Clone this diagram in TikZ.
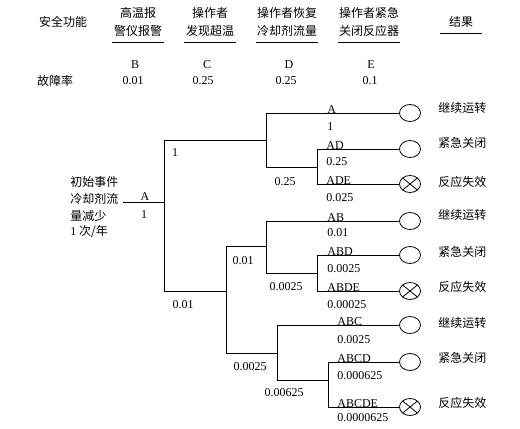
\documentclass[tikz,border=0pt]{standalone}
\usepackage{fontspec}
\setmainfont{Liberation Serif}
\newfontfamily\cjk{Noto Sans CJK SC}
\usetikzlibrary{shapes.geometric}
\begin{document}
\begin{tikzpicture}[x=0.75pt,y=-0.75pt,line width=0.6pt,
  lab/.style={font=\fontsize{9}{10}\selectfont, inner sep=0pt},
  zh/.style={font=\cjk\fontsize{9}{10}\selectfont, inner sep=0pt, align=center},
  seq/.style={lab, anchor=base west},
  prob/.style={lab, anchor=west},
  res/.style={ellipse, draw, minimum width=15.75pt, minimum height=12.75pt, inner sep=0pt},
  fail/.style={res, path picture={
     \draw (path picture bounding box.north west) -- (path picture bounding box.south east);
     \draw (path picture bounding box.north east) -- (path picture bounding box.south west);}}]
\useasboundingbox (0,0) rectangle (520,428);
% header
\node[zh] (hsf) at (63,22) {安全功能};
\node[zh] (hb1) at (138,13) {高温报};
\node[zh] (hb2) at (138,31) {警仪报警};
\node[zh] (hc1) at (210,13) {操作者};
\node[zh] (hc2) at (210,31) {发现超温};
\node[zh] (hd1) at (287,13) {操作者恢复};
\node[zh] (hd2) at (287,31) {冷却剂流量};
\node[zh] (he1) at (369,13) {操作者紧急};
\node[zh] (he2) at (369,31) {关闭反应器};
\node[zh] (hr) at (461,22) {结果};
\draw (112,42) -- (164,42);
\draw (184,42) -- (236,42);
\draw (256,42) -- (318,42);
\draw (338,42) -- (400,42);
\draw (440,33) -- (482,33);
\node[lab] (lB) at (135,65) {B};
\node[lab] (lC) at (207,65) {C};
\node[lab] (lD) at (289,65) {D};
\node[lab] (lE) at (371,65) {E};
\node[zh] (hfr) at (55,81) {故障率};
\node[lab] (fB) at (133,81) {0.01};
\node[lab] (fC) at (203,81) {0.25};
\node[lab] (fD) at (286,81) {0.25};
\node[lab] (fE) at (370,81) {0.1};
% initial event
\node[zh, anchor=west] (ie1) at (70,182) {初始事件};
\node[zh, anchor=west] (ie2) at (70,199) {冷却剂流};
\node[zh, anchor=west] (ie3) at (70,216) {量减少};
\node[zh, anchor=west] (ie4) at (70,232) {{\fontspec{Liberation Serif}1} 次/年};
% outcome circles
\node[res]  (o1) at (410,113) {};
\node[res]  (o2) at (410,149) {};
\node[fail] (o3) at (410,184) {};
\node[res]  (o4) at (410,221) {};
\node[res]  (o5) at (410,255) {};
\node[fail] (o6) at (410,291) {};
\node[res]  (o7) at (410,325) {};
\node[res]  (o8) at (410,362) {};
\node[fail] (o9) at (410,407) {};
% outcome texts
\node[zh, anchor=west] (t1) at (438,108) {继续运转};
\node[zh, anchor=west] (t2) at (438,143) {紧急关闭};
\node[zh, anchor=west] (t3) at (438,182) {反应失效};
\node[zh, anchor=west] (t4) at (438,215) {继续运转};
\node[zh, anchor=west] (t5) at (438,252) {紧急关闭};
\node[zh, anchor=west] (t6) at (438,287) {反应失效};
\node[zh, anchor=west] (t7) at (438,323) {继续运转};
\node[zh, anchor=west] (t8) at (438,358) {紧急关闭};
\node[zh, anchor=west] (t9) at (438,403) {反应失效};
% tree coordinates
\coordinate (i0) at (123,202);
\coordinate (j0) at (164,202);
\coordinate (j0u) at (164,140);
\coordinate (j0d) at (164,291);
\coordinate (c1) at (266,140);
\coordinate (c1u) at (266,113);
\coordinate (c1d) at (266,167);
\coordinate (d1) at (317,167);
\coordinate (d1u) at (317,149);
\coordinate (d1d) at (317,184);
\coordinate (b2) at (226,291);
\coordinate (b2u) at (226,246);
\coordinate (b2d) at (226,353);
\coordinate (c2) at (266,246);
\coordinate (c2u) at (266,221);
\coordinate (c2d) at (266,273);
\coordinate (d2) at (317,273);
\coordinate (d2u) at (317,255);
\coordinate (d2d) at (317,291);
\coordinate (c3) at (277,353);
\coordinate (c3u) at (277,325);
\coordinate (c3d) at (277,380);
\coordinate (d3) at (328,380);
\coordinate (d3u) at (328,362);
\coordinate (d3d) at (328,407);
% tree lines
\draw (i0) -- (j0);
\draw (j0u) -- (j0d);
\draw (j0u) -- (c1);
\draw (c1u) -- (c1d);
\draw (c1u) -- (o1.west);
\draw (c1d) -- (d1);
\draw (d1u) -- (d1d);
\draw (d1u) -- (o2.west);
\draw (d1d) -- (o3.west);
\draw (j0d) -- (b2);
\draw (b2u) -- (b2d);
\draw (b2u) -- (c2);
\draw (c2u) -- (c2d);
\draw (c2u) -- (o4.west);
\draw (c2d) -- (d2);
\draw (d2u) -- (d2d);
\draw (d2u) -- (o5.west);
\draw (d2d) -- (o6.west);
\draw (b2d) -- (c3);
\draw (c3u) -- (c3d);
\draw (c3u) -- (o7.west);
\draw (c3d) -- (d3);
\draw (d3u) -- (d3d);
\draw (d3u) -- (o8.west);
\draw (d3d) -- (o9.west);
% branch labels
\node[lab] (pA) at (145,197) {A};
\node[lab] (pA1) at (144,215) {1};
\node[lab] (p1) at (175,153) {1};
\node[lab] (p025) at (285,182) {0.25};
\node[lab] (p001a) at (183,305) {0.01};
\node[lab] (p001b) at (243,261) {0.01};
\node[lab] (p0025a) at (286,287) {0.0025};
\node[lab] (p0025b) at (250,367) {0.0025};
\node[lab] (p00625) at (284,393) {0.00625};
% sequence labels
\node[seq] (sA) at (327,113) {A};
\node[prob] (qA) at (327,127) {1};
\node[seq] (sAD) at (326,149) {AD};
\node[prob] (qAD) at (326,162) {0.25};
\node[seq] (sADE) at (326,184) {ADE};
\node[prob] (qADE) at (326,198) {0.025};
\node[seq] (sAB) at (327,221) {AB};
\node[prob] (qAB) at (327,233) {0.01};
\node[seq] (sABD) at (327,255) {ABD};
\node[prob] (qABD) at (327,269) {0.0025};
\node[seq] (sABDE) at (327,291) {ABDE};
\node[prob] (qABDE) at (327,305) {0.00025};
\node[seq] (sABC) at (337,325) {ABC};
\node[prob] (qABC) at (337,340) {0.0025};
\node[seq] (sABCD) at (337,362) {ABCD};
\node[prob] (qABCD) at (337,376) {0.000625};
\node[seq] (sABCDE) at (337,407) {ABCDE};
\node[prob] (qABCDE) at (337,418) {0.0000625};
\end{tikzpicture}
\end{document}
